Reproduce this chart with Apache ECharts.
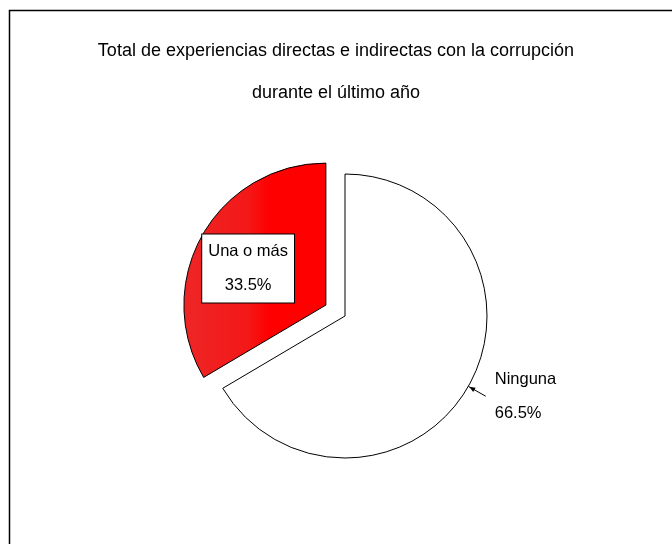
<!DOCTYPE html>
<html>
<head>
<meta charset="utf-8">
<script src="https://cdn.jsdelivr.net/npm/echarts@6/dist/echarts.min.js"></script>
<style>
  html, body { margin: 0; padding: 0; background: #fff; }
  #chart { width: 672px; height: 544px; }
</style>
</head>
<body>
<div id="chart"></div>
<script>
// Survey answers and their shares (%)
const categories = ['Ninguna', 'Una o más'];
const shares = [66.5, 33.5];
const titleLines = [
  'Total de experiencias directas e indirectas con la corrupción',
  'durante el último año'
];

const FONT = '"Liberation Sans", Arial, sans-serif';
const center = [345, 316];
const radius = 142;

const chart = echarts.init(document.getElementById('chart'), null, { renderer: 'canvas' });

// Arrowhead at the tip of the "Ninguna" leader line, placed on the slice's mid-angle
const total = shares.reduce((a, b) => a + b, 0);
const midDeg = (shares[0] / total) * 360 / 2;           // clockwise from 12 o'clock
const midRad = midDeg * Math.PI / 180;
const dir = [Math.sin(midRad), -Math.cos(midRad)];
const tip = [center[0] + dir[0] * (radius + 1), center[1] + dir[1] * (radius + 1)];
const perp = [-dir[1], dir[0]];
const ah = 6, aw = 2.5;
const arrowPts = [
  tip,
  [tip[0] + dir[0] * ah + perp[0] * aw, tip[1] + dir[1] * ah + perp[1] * aw],
  [tip[0] + dir[0] * ah - perp[0] * aw, tip[1] + dir[1] * ah - perp[1] * aw]
];

chart.setOption({
  backgroundColor: '#fff',
  animation: false,
  textStyle: { fontFamily: FONT },
  title: {
    text: titleLines.join('\n'),
    left: 'center',
    top: 25,
    textStyle: {
      fontFamily: FONT,
      fontSize: 18,
      fontWeight: 'normal',
      color: '#000',
      lineHeight: 42
    }
  },
  graphic: [
    {
      type: 'rect',
      shape: { x: 9.5, y: 10.5, width: 700, height: 600 },
      style: { fill: 'none', stroke: '#000', lineWidth: 1.5 },
      silent: true
    },
    {
      type: 'polygon',
      shape: { points: arrowPts },
      style: { fill: '#000' },
      z: 10,
      silent: true
    }
  ],
  series: [{
    type: 'pie',
    center: center,
    radius: radius,
    startAngle: 90,
    clockwise: true,
    selectedMode: 'single',
    selectedOffset: 22,
    avoidLabelOverlap: false,
    emphasis: { disabled: true },
    itemStyle: { borderColor: '#000', borderWidth: 1 },
    label: {
      fontFamily: FONT,
      fontSize: 16.5,
      color: '#000',
      lineHeight: 34
    },
    labelLine: {
      show: true,
      length: 20,
      length2: 0,
      lineStyle: { color: '#000', width: 1 }
    },
    // shift the boxed inside label toward the slice's outer edge
    labelLayout: function (params) {
      return params.dataIndex === 1 ? { dx: -13.5 } : {};
    },
    data: [
      {
        name: categories[0],
        value: shares[0],
        itemStyle: { color: '#fff' },
        label: {
          position: 'outside',
          formatter: '{b}\n{c}%',
          align: 'left',
          distanceToLabelLine: 9
        }
      },
      {
        name: categories[1],
        value: shares[1],
        selected: true,
        itemStyle: {
          color: {
            type: 'linear', x: 0, y: 0, x2: 1, y2: 0,
            colorStops: [
              { offset: 0, color: '#ee2626' },
              { offset: 0.45, color: '#f41818' },
              { offset: 0.6, color: '#ff0000' },
              { offset: 1, color: '#ff0000' }
            ]
          }
        },
        label: {
          position: 'inside',
          formatter: '{b}\n{c}%',
          align: 'center',
          backgroundColor: '#fff',
          borderColor: '#000',
          borderWidth: 1,
          padding: [0, 6]
        },
        labelLine: { show: false }
      }
    ]
  }]
});
</script>
</body>
</html>
